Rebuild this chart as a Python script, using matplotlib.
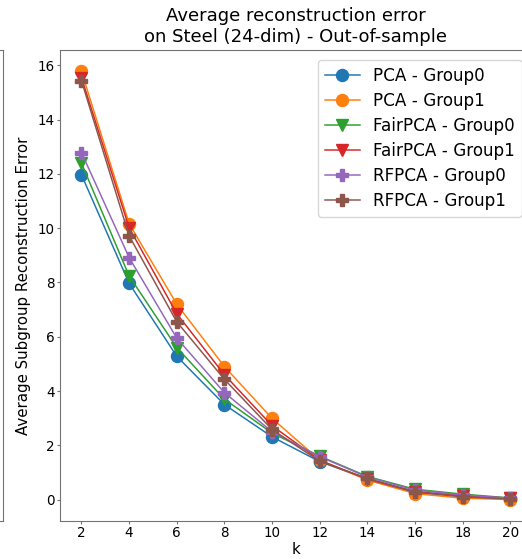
import matplotlib
matplotlib.use("Agg")
import matplotlib.pyplot as plt

# k values and average subgroup reconstruction error per method/group
ks = [2, 4, 6, 8, 10, 12, 14, 16, 18, 20]
pca_g0 = [11.97, 7.97, 5.28, 3.50, 2.31, 1.40, 0.76, 0.30, 0.12, 0.03]
pca_g1 = [15.78, 10.17, 7.20, 4.90, 2.99, 1.45, 0.72, 0.22, 0.05, 0.00]
fair_g0 = [12.40, 8.24, 5.60, 3.70, 2.45, 1.60, 0.85, 0.38, 0.20, 0.06]
fair_g1 = [15.55, 10.02, 6.85, 4.60, 2.72, 1.45, 0.75, 0.28, 0.15, 0.05]
rf_g0 = [12.79, 8.92, 5.95, 3.94, 2.50, 1.58, 0.83, 0.35, 0.17, 0.05]
rf_g1 = [15.44, 9.72, 6.55, 4.43, 2.58, 1.41, 0.78, 0.27, 0.10, 0.02]

series = [
    ("PCA - Group0", pca_g0, "o"),
    ("PCA - Group1", pca_g1, "o"),
    ("FairPCA - Group0", fair_g0, "v"),
    ("FairPCA - Group1", fair_g1, "v"),
    ("RFPCA - Group0", rf_g0, "P"),
    ("RFPCA - Group1", rf_g1, "P"),
]

# sizes picked in pixels, converted to points at 100 dpi
px = 0.72
plt.rcParams["font.size"] = 15 * px
plt.rcParams["xtick.labelsize"] = 13.5 * px
plt.rcParams["ytick.labelsize"] = 13.5 * px
plt.rcParams["axes.titlesize"] = 18 * px

fig = plt.figure(figsize=(5.22, 5.59), dpi=100)

# right edge of the previous subplot, which peeks in on the left
prev = fig.add_axes([-0.5, 0.068, 0.5 + 3 / 522, 0.8426])
prev.set_xticks([])
prev.set_yticks([])
for s in prev.spines.values():
    s.set_color("0.45")

ax = fig.add_axes([60 / 522, 0.068, 0.904, 0.8426])
for label, vals, m in series:
    ax.plot(ks, vals, marker=m, markersize=12 * px, linewidth=1.5 * px, label=label)

ax.set_xticks(ks)
ax.set_xlabel("k", labelpad=2 * px)
ax.set_ylabel("Average Subgroup Reconstruction Error", labelpad=6 * px)
ax.set_title("Average reconstruction error\non Steel (24-dim) - Out-of-sample")
ax.legend(loc="upper right", fontsize=16.8 * px, handlelength=2.1,
          labelspacing=0.42, borderaxespad=0.6)
for s in ax.spines.values():
    s.set_color("0.45")
ax.tick_params(color="0.45", length=3 * px, pad=2.5 * px)

plt.savefig("out.png")
plt.close()
